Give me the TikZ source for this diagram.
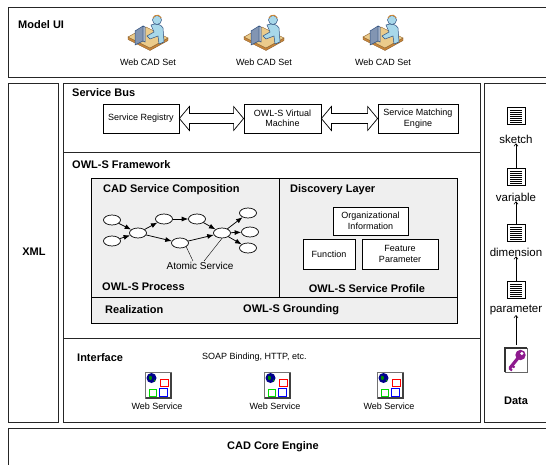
\documentclass[tikz,border=0pt]{standalone}
\usepackage{fontspec}
\setmainfont{Liberation Sans}
\usetikzlibrary{calc,arrows.meta,shapes.geometric}

\definecolor{desktan}{HTML}{EBCB8B}
\definecolor{deskedge}{HTML}{C8863A}
\definecolor{skin}{HTML}{A8D8EA}
\definecolor{navy}{HTML}{2E4F7E}
\definecolor{panelgray}{HTML}{EFEFEF}
\definecolor{keypurple}{HTML}{8E1A8E}

\tikzset{
  frame/.style={draw=black!85,line width=0.9pt},
  title/.style={font=\bfseries\fontsize{11}{13}\selectfont,anchor=west,inner sep=0pt},
  caption/.style={font=\fontsize{9}{10.5}\selectfont,inner sep=0pt},
  sidelabel/.style={font=\fontsize{11.5}{13}\selectfont,inner sep=0pt},
  plainbox/.style={draw=black,line width=0.8pt,fill=white,align=center,
    font=\fontsize{9}{10.5}\selectfont,inner sep=0pt},
  svc/.style={draw=black,ellipse,minimum width=17pt,minimum height=10pt,
    inner sep=0pt,line width=0.7pt,fill=white},
  flow/.style={-{Latex[length=6.5pt,width=5pt]},line width=0.75pt},
  up/.style={-{To[length=3pt,width=4.5pt]},line width=0.6pt},
  blockarr/.style={draw=black,fill=white,line width=0.7pt,
    to path={-- ($(\tikztostart)+(10,-12)$) -- ($(\tikztostart)+(10,-5)$)
      -- ($(\tikztotarget)+(-10,-5)$) -- ($(\tikztotarget)+(-10,-12)$)
      -- (\tikztotarget) -- ($(\tikztotarget)+(-10,12)$)
      -- ($(\tikztotarget)+(-10,5)$) -- ($(\tikztostart)+(10,5)$)
      -- ($(\tikztostart)+(10,12)$) -- cycle}},
  % workstation: operator at a desk with a monitor
  cadset/.pic={
    \filldraw[fill=deskedge,draw=deskedge!70!black,line width=0.4pt]
      (-20,4) -- (2,15) -- (20,5) -- (20,7.5) -- (2,17.5) -- (-20,6.5) -- cycle;
    \filldraw[fill=desktan,draw=deskedge!70!black,line width=0.4pt]
      (-20,4) -- (-2,-6) -- (20,5) -- (2,15) -- cycle;
    \filldraw[fill=navy!60,draw=navy,line width=0.5pt]
      (-13,-2) -- (-5,-7) -- (-5,8) -- (-13,12) -- cycle;
    \filldraw[fill=navy!35,draw=navy,line width=0.5pt]
      (-5,-7) -- (-3,-6) -- (-3,9) -- (-5,8) -- cycle;
    \filldraw[fill=skin,draw=navy,line width=0.5pt]
      (3,-8) .. controls (8,-10) and (13,-9) .. (15,-5)
      -- (16,9) -- (11,11) -- (10,3) -- (2,6) -- (-1,3) -- (6,-1) -- cycle;
    \filldraw[fill=skin,draw=navy,line width=0.5pt] (9,-13) circle (4.5);
    \draw[deskedge,line width=0.9pt] (5,-15) arc (200:340:4.4);
  },
  % web service: globe with three coloured panes
  websvc/.pic={
    \filldraw[fill=white,draw=black!55,line width=0.6pt] (-13,-13) rectangle (13,13);
    \draw[black!75,line width=1.2pt] (-12.5,13) -- (13,13) -- (13,-12.5);
    \fill[blue!55!black] (-6.5,-7) circle (5);
    \fill[green!55!black] (-8.5,-9.5) .. controls (-6,-10) and (-5,-7) .. (-7,-5)
      .. controls (-8,-4) and (-10,-6) .. cycle;
    \fill[green!55!black] (-4,-6) .. controls (-2,-6) and (-2,-3) .. (-4,-3) -- cycle;
    \draw[red,line width=0.9pt] (2.5,-6) rectangle (10,1.5);
    \draw[green!85!black,line width=0.9pt] (-8.5,4) rectangle (-1.5,11);
    \draw[blue,line width=0.9pt] (1,3.5) rectangle (9.5,11);
  },
  % text document
  docsheet/.pic={
    \filldraw[fill=white,draw=black,line width=0.8pt] (-9,-8.5) rectangle (9,8.5);
    \foreach \yy in {-6,-4,...,6} \draw[line width=0.5pt] (-6,\yy) -- (6,\yy);
  },
  % key emblem
  keyicon/.pic={
    \filldraw[fill=white,draw=black!60,line width=0.6pt] (-11,-12) rectangle (11,12);
    \draw[black!80,line width=1.3pt] (-11,12) -- (-11,-12) -- (11,-12);
    \draw[keypurple,line width=3.2pt,line cap=round] (2,-2) -- (-6,8);
    \draw[keypurple,line width=2pt] (-4,5.5) -- (-1.5,7.5);
    \draw[keypurple,line width=2pt] (-6.5,8.5) -- (-4,10.5);
    \fill[keypurple] (4.5,-5) circle (5.2);
    \fill[white] (5.8,-6.5) circle (1.7);
  }
}

\begin{document}
\begin{tikzpicture}[x=1pt,y=-1pt]
\useasboundingbox (0,0) rectangle (546,465);
\clip (0,0) rectangle (546,465);

% ---------- outer frames ----------
\draw[frame] (8,7) rectangle (560,77);
\draw[frame] (8,83) rectangle (58,422);
\draw[frame] (63,83) rectangle (480,422);
\draw[frame] (484,83) rectangle (560,422);
\draw[frame] (8,428) rectangle (560,480);
\draw[frame] (63,152) -- (480,152);
\draw[frame] (63,338) -- (480,338);

% ---------- Model UI ----------
\node[title] (modelui) at (18,25) {Model UI};
\foreach \n/\xx in {1/148,2/264,3/383}{
  \pic at (\xx,33) {cadset};
  \node[caption] (cad\n) at (\xx,62) {Web CAD Set};
}

% ---------- XML ----------
\node[title,anchor=center] (xml) at (34,252) {XML};

% ---------- Service Bus ----------
\node[title] (bus) at (72,93) {Service Bus};
\node[plainbox,minimum width=76pt,minimum height=29pt] (reg) at (141,118.5) {Service Registry};
\node[plainbox,minimum width=77pt,minimum height=29pt] (vm) at (282.5,118.5) {OWL-S Virtual\\Machine};
\node[plainbox,minimum width=80pt,minimum height=29pt] (sme) at (418,118.5) {Service Matching\\Engine};
\draw[blockarr] (reg.east) to (vm.west);
\draw[blockarr] (vm.east) to (sme.west);

% ---------- OWL-S Framework ----------
\node[title] (fw) at (72,165) {OWL-S Framework};
\filldraw[fill=panelgray,draw=black,line width=0.8pt] (91,178) rectangle (457,323);
\draw[line width=0.8pt] (279,178) -- (279,297);
\draw[line width=0.8pt] (91,297) -- (457,297);

\node[title] (comp) at (103,190) {CAD Service Composition};
\node[title] (proc) at (102,287) {OWL-S Process};
\node[title] (disc) at (290,190) {Discovery Layer};
\node[title,anchor=center] (prof) at (367,289) {OWL-S Service Profile};
\node[title] (real) at (105,310) {Realization};
\node[title] (grnd) at (243,310) {OWL-S Grounding};

% process graph
\node[svc] (e1) at (112,220) {};
\node[svc] (e2) at (112,241) {};
\node[svc] (e3) at (138,233) {};
\node[svc] (e4) at (164,219) {};
\node[svc] (e5) at (197,219) {};
\node[svc] (e6) at (180,243) {};
\node[svc] (e7) at (222,233) {};
\node[svc] (e8) at (248,213) {};
\node[svc] (e9) at (250,232) {};
\node[svc] (e10) at (248,248) {};
\foreach \a/\b in {e1/e3,e2/e3,e3/e4,e3/e6,e4/e5,e5/e7,e6/e7,e7/e8,e7/e9,e7/e10}
  \draw[flow] (\a) -- (\b);
\node[font=\fontsize{10}{12}\selectfont,inner sep=0pt] (atomic) at (200,266) {Atomic Service};
\draw[line width=0.4pt] (e6.south east) -- ($(atomic.north)+(-7,-1)$);
\draw[line width=0.4pt] (e7.south) -- ($(atomic.north)+(4,-1)$);

% profile boxes
\node[plainbox,minimum width=75pt,minimum height=28pt] (org) at (370.5,221) {Organizational\\Information};
\node[plainbox,minimum width=52pt,minimum height=30pt] (func) at (329,254) {Function};
\node[plainbox,minimum width=76pt,minimum height=30pt] (feat) at (400,254) {Feature\\Parameter};

% ---------- Interface ----------
\node[title] (iface) at (77,358) {Interface};
\node[caption,anchor=west] (soap) at (202,357) {SOAP Binding, HTTP, etc.};
\foreach \n/\ix/\tx in {1/158/157,2/277/275,3/390/389}{
  \pic at (\ix,385) {websvc};
  \node[caption] (ws\n) at (\tx,406) {Web Service};
}

% ---------- Data column ----------
\pic at (516,116) {docsheet};
\node[sidelabel] (sketch) at (516,139) {sketch};
\pic at (516,177) {docsheet};
\coordinate (vardoc) at (516,168);
\node[sidelabel] (variable) at (516,197) {variable};
\pic at (516,233) {docsheet};
\coordinate (dimdoc) at (516,224);
\node[sidelabel] (dimension) at (516,252) {dimension};
\pic at (516,290) {docsheet};
\coordinate (pardoc) at (516,281);
\node[sidelabel] (parameter) at (516,310) {parameter};
\pic at (516,360) {keyicon};
\coordinate (keytop) at (516,345);
\node[title,anchor=center] (data) at (516,401) {Data};
\draw[up] (vardoc) -- (sketch.south);
\draw[up] (dimdoc) -- (variable.south);
\draw[up] (pardoc) -- (dimension.south);
\draw[up] (keytop) -- (parameter.south);

% ---------- core ----------
\node[title,anchor=center] (core) at (273,447) {CAD Core Engine};
\end{tikzpicture}
\end{document}
